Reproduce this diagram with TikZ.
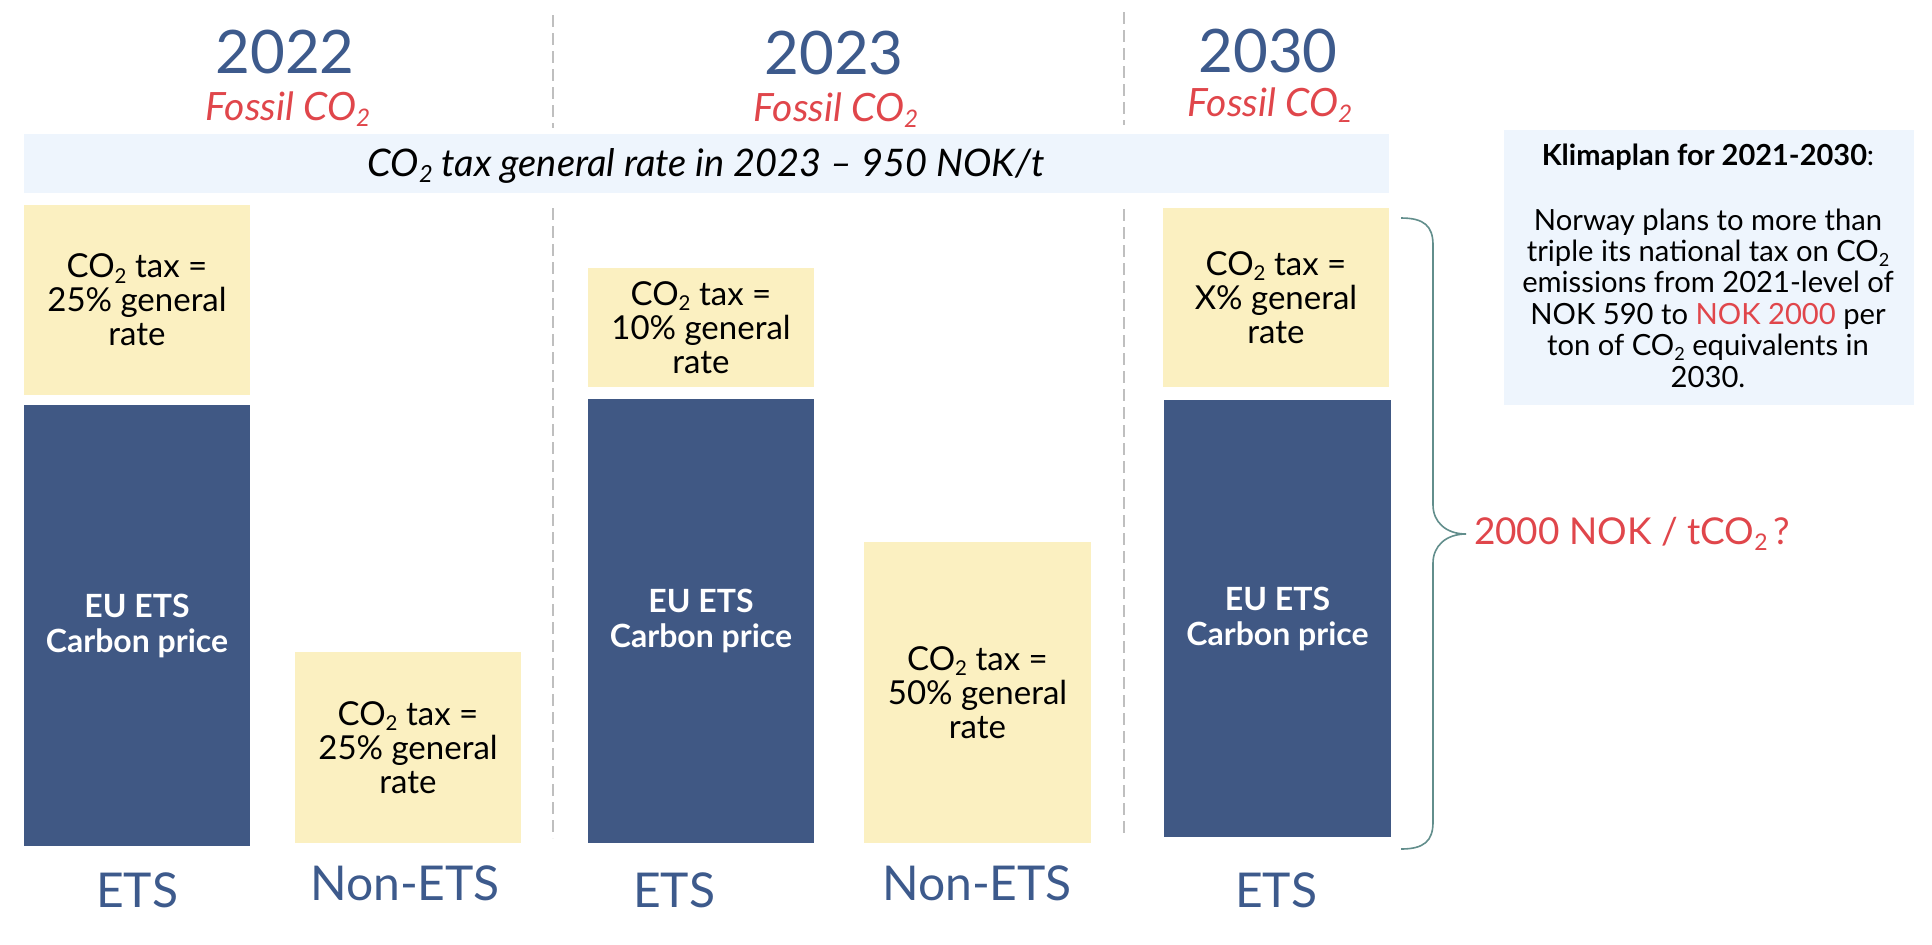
\documentclass[tikz,border=0pt]{standalone}
\usepackage{fontspec}
\setmainfont{Lato}
\definecolor{navy}{HTML}{405884}
\definecolor{yeartxt}{HTML}{3D5A8C}
\definecolor{sandy}{HTML}{FBF0C1}
\definecolor{paleblue}{HTML}{EEF5FD}
\definecolor{redtxt}{HTML}{E0464B}
\definecolor{bracecol}{HTML}{628E8C}
\definecolor{dashgrey}{HTML}{BFBFBF}
\newcommand{\cotwo}{CO\raisebox{-0.32ex}{\scalebox{0.62}{2}}}
\begin{document}
\begin{tikzpicture}[x=0.5pt,y=-0.5pt,
  every node/.style={inner sep=0pt,outer sep=0pt},
  yeartext/.style={text=yeartxt,anchor=base,font=\fontsize{30}{35}\selectfont},
  fossil/.style={text=redtxt,anchor=base,font=\fontsize{19.5}{23}\selectfont\itshape},
  taxbox/.style={fill=sandy,align=center,font=\fontsize{16.5}{17}\selectfont},
  etsbox/.style={fill=navy,text=white,align=center,font=\fontsize{16}{17.5}\selectfont\bfseries},
  catlabel/.style={text=yeartxt,anchor=base,font=\fontsize{24}{28}\selectfont},
  divider/.style={draw=dashgrey,line width=0.8pt,dash pattern=on 6pt off 3pt},
  bracepath/.style={draw=bracecol,line width=0.8pt}
]
\useasboundingbox[fill=white] (0,0) rectangle (1932,944);

% dashed dividers
\coordinate (d1a) at (553,15);  \coordinate (d1b) at (553,128);
\coordinate (d1c) at (553,208); \coordinate (d1d) at (553,838);
\coordinate (d2a) at (1124,12); \coordinate (d2b) at (1124,125);
\coordinate (d2c) at (1124,209);\coordinate (d2d) at (1124,838);
\draw[divider] (d1a) -- (d1b);
\draw[divider] (d1c) -- (d1d);
\draw[divider] (d2a) -- (d2b);
\draw[divider] (d2c) -- (d2d);

% headings
\node[yeartext] (y2022) at (285,73) {2022};
\node[yeartext] (y2023) at (834,74) {2023};
\node[yeartext] (y2030) at (1268,72) {2030};
\node[fossil] (f2022) at (288,120) {Fossil \cotwo};
\node[fossil] (f2023) at (836,121) {Fossil \cotwo};
\node[fossil] (f2030) at (1270,116) {Fossil \cotwo};

% general rate band
\node[fill=paleblue,minimum width=682.5pt,minimum height=29.5pt] (band) at (706.5,163.5) {};
\node[anchor=base,font=\fontsize{19}{22}\selectfont\itshape] (bandtxt) at (706,176)
  {\cotwo{} tax general rate in 2023 -- 950 NOK/t};

% 2022
\node[taxbox,minimum width=113pt,minimum height=95pt] (t22) at (137,300)
  {\cotwo{} tax =\\25\% general\\rate};
\node[etsbox,minimum width=113pt,minimum height=220.5pt] (e22) at (137,625.5)
  {EU ETS\\Carbon price};
\node[taxbox,minimum width=113pt,minimum height=95.5pt] (n22) at (408,747.5)
  {\cotwo{} tax =\\25\% general\\rate};

% 2023
\node[taxbox,minimum width=113pt,minimum height=59.5pt] (t23) at (701,327.5)
  {\cotwo{} tax =\\10\% general\\rate};
\node[etsbox,minimum width=113pt,minimum height=222pt] (e23) at (701,621)
  {EU ETS\\Carbon price};
\node[taxbox,minimum width=113.5pt,minimum height=150.5pt] (n23) at (977.5,692.5)
  {\cotwo{} tax =\\50\% general\\rate};

% 2030
\node[taxbox,minimum width=113pt,minimum height=89.5pt] (t30) at (1276,297.5)
  {\cotwo{} tax =\\X\% general\\rate};
\node[etsbox,minimum width=113.5pt,minimum height=218.5pt] (e30) at (1277.5,618.5)
  {EU ETS\\Carbon price};

% category labels
\node[catlabel] (l1) at (137,907) {ETS};
\node[catlabel] (l2) at (405,900) {Non-ETS};
\node[catlabel] (l3) at (674,907) {ETS};
\node[catlabel] (l4) at (977,900) {Non-ETS};
\node[catlabel] (l5) at (1276,907) {ETS};

% brace
\coordinate (btop) at (1401,218);
\coordinate (btip) at (1466,534);
\coordinate (bbot) at (1401,849);
\draw[bracepath] (btop) .. controls (1424,218) and (1433,226) .. (1433,245)
  -- (1433,505) .. controls (1433,522) and (1446,534) .. (btip)
  .. controls (1446,534) and (1433,546) .. (1433,563)
  -- (1433,822) .. controls (1433,841) and (1424,849) .. (bbot);
\node[anchor=base west,text=redtxt,font=\fontsize{18.5}{22}\selectfont] (target) at (1474,544)
  {2000 NOK / t\cotwo\,?};

% info box
\node[fill=paleblue,minimum width=205pt,minimum height=137.5pt] (info) at (1709,267.5) {};
\node[anchor=base,font=\fontsize{14.5}{16}\selectfont] (infotitle) at (1708,165)
  {\textbf{Klimaplan for 2021-2030}:};
\node[align=center,font=\fontsize{14.6}{15.7}\selectfont] (infotxt) at (1708,298)
  {Norway plans to more than\\triple its national tax on \cotwo\\emissions from 2021-level of\\NOK 590 to \textcolor{redtxt}{NOK 2000} per\\ton of \cotwo{} equivalents in\\2030.};
\end{tikzpicture}
\end{document}
